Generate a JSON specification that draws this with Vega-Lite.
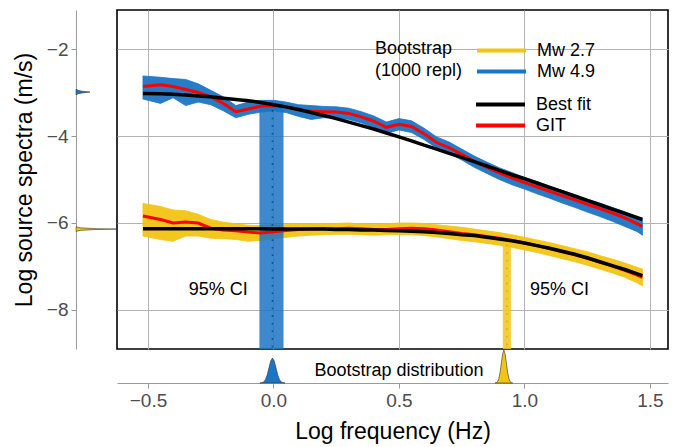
{
  "$schema": "https://vega.github.io/schema/vega-lite/v6.json",
  "width": 551,
  "height": 339,
  "autosize": {"type": "none"},
  "padding": {"left": 117, "top": 10, "right": 5, "bottom": 98},
  "config": {
    "font": "Liberation Sans",
    "view": {"stroke": "#000000", "strokeWidth": 1.6},
    "legend": {"padding": 0}
  },
  "datasets": {
    "spec": [
      {"f": -0.52, "event": "Mw 4.9", "hi": -2.62, "lo": -3.15, "git": -2.86, "fit": -3.02},
      {"f": -0.45, "event": "Mw 4.9", "hi": -2.65, "lo": -3.25, "git": -2.82, "fit": -3.03},
      {"f": -0.4, "event": "Mw 4.9", "hi": -2.68, "lo": -3.12, "git": -2.86, "fit": -3.04},
      {"f": -0.35, "event": "Mw 4.9", "hi": -2.7, "lo": -3.3, "git": -2.93, "fit": -3.06},
      {"f": -0.3, "event": "Mw 4.9", "hi": -2.8, "lo": -3.22, "git": -3.0, "fit": -3.08},
      {"f": -0.25, "event": "Mw 4.9", "hi": -2.95, "lo": -3.28, "git": -3.1, "fit": -3.1},
      {"f": -0.2, "event": "Mw 4.9", "hi": -3.1, "lo": -3.42, "git": -3.25, "fit": -3.13},
      {"f": -0.15, "event": "Mw 4.9", "hi": -3.3, "lo": -3.58, "git": -3.44, "fit": -3.16},
      {"f": -0.1, "event": "Mw 4.9", "hi": -3.22, "lo": -3.5, "git": -3.38, "fit": -3.19},
      {"f": -0.05, "event": "Mw 4.9", "hi": -3.18, "lo": -3.45, "git": -3.31, "fit": -3.23},
      {"f": 0.0, "event": "Mw 4.9", "hi": -3.18, "lo": -3.42, "git": -3.3, "fit": -3.28},
      {"f": 0.05, "event": "Mw 4.9", "hi": -3.22, "lo": -3.46, "git": -3.33, "fit": -3.33},
      {"f": 0.1, "event": "Mw 4.9", "hi": -3.28, "lo": -3.55, "git": -3.4, "fit": -3.39},
      {"f": 0.15, "event": "Mw 4.9", "hi": -3.3, "lo": -3.62, "git": -3.43, "fit": -3.46},
      {"f": 0.2, "event": "Mw 4.9", "hi": -3.32, "lo": -3.58, "git": -3.44, "fit": -3.53},
      {"f": 0.25, "event": "Mw 4.9", "hi": -3.33, "lo": -3.58, "git": -3.45, "fit": -3.6},
      {"f": 0.3, "event": "Mw 4.9", "hi": -3.36, "lo": -3.62, "git": -3.48, "fit": -3.68},
      {"f": 0.35, "event": "Mw 4.9", "hi": -3.44, "lo": -3.7, "git": -3.56, "fit": -3.76},
      {"f": 0.4, "event": "Mw 4.9", "hi": -3.54, "lo": -3.8, "git": -3.66, "fit": -3.84},
      {"f": 0.45, "event": "Mw 4.9", "hi": -3.68, "lo": -3.94, "git": -3.8, "fit": -3.93},
      {"f": 0.5, "event": "Mw 4.9", "hi": -3.6, "lo": -3.86, "git": -3.73, "fit": -4.02},
      {"f": 0.55, "event": "Mw 4.9", "hi": -3.65, "lo": -3.92, "git": -3.78, "fit": -4.11},
      {"f": 0.6, "event": "Mw 4.9", "hi": -3.82, "lo": -4.08, "git": -3.95, "fit": -4.21},
      {"f": 0.65, "event": "Mw 4.9", "hi": -4.02, "lo": -4.28, "git": -4.15, "fit": -4.3},
      {"f": 0.7, "event": "Mw 4.9", "hi": -4.14, "lo": -4.4, "git": -4.27, "fit": -4.4},
      {"f": 0.75, "event": "Mw 4.9", "hi": -4.3, "lo": -4.55, "git": -4.42, "fit": -4.49},
      {"f": 0.8, "event": "Mw 4.9", "hi": -4.46, "lo": -4.72, "git": -4.58, "fit": -4.59},
      {"f": 0.85, "event": "Mw 4.9", "hi": -4.6, "lo": -4.86, "git": -4.72, "fit": -4.69},
      {"f": 0.9, "event": "Mw 4.9", "hi": -4.73, "lo": -5.0, "git": -4.85, "fit": -4.79},
      {"f": 0.95, "event": "Mw 4.9", "hi": -4.84, "lo": -5.12, "git": -4.96, "fit": -4.89},
      {"f": 1.0, "event": "Mw 4.9", "hi": -4.95, "lo": -5.22, "git": -5.07, "fit": -4.98},
      {"f": 1.05, "event": "Mw 4.9", "hi": -5.05, "lo": -5.33, "git": -5.17, "fit": -5.08},
      {"f": 1.1, "event": "Mw 4.9", "hi": -5.15, "lo": -5.43, "git": -5.27, "fit": -5.18},
      {"f": 1.15, "event": "Mw 4.9", "hi": -5.25, "lo": -5.54, "git": -5.37, "fit": -5.28},
      {"f": 1.2, "event": "Mw 4.9", "hi": -5.35, "lo": -5.64, "git": -5.47, "fit": -5.38},
      {"f": 1.25, "event": "Mw 4.9", "hi": -5.45, "lo": -5.75, "git": -5.57, "fit": -5.48},
      {"f": 1.3, "event": "Mw 4.9", "hi": -5.54, "lo": -5.85, "git": -5.67, "fit": -5.58},
      {"f": 1.35, "event": "Mw 4.9", "hi": -5.64, "lo": -5.96, "git": -5.77, "fit": -5.68},
      {"f": 1.4, "event": "Mw 4.9", "hi": -5.74, "lo": -6.08, "git": -5.88, "fit": -5.78},
      {"f": 1.45, "event": "Mw 4.9", "hi": -5.86, "lo": -6.2, "git": -6.02, "fit": -5.88},
      {"f": 1.47, "event": "Mw 4.9", "hi": -5.92, "lo": -6.28, "git": -6.08, "fit": -5.92},
      {"f": -0.52, "event": "Mw 2.7", "hi": -5.55, "lo": -6.3, "git": -5.84, "fit": -6.13},
      {"f": -0.45, "event": "Mw 2.7", "hi": -5.62, "lo": -6.38, "git": -5.92, "fit": -6.13},
      {"f": -0.4, "event": "Mw 2.7", "hi": -5.7, "lo": -6.42, "git": -6.0, "fit": -6.13},
      {"f": -0.35, "event": "Mw 2.7", "hi": -5.72, "lo": -6.3, "git": -5.98, "fit": -6.13},
      {"f": -0.3, "event": "Mw 2.7", "hi": -5.8, "lo": -6.3, "git": -6.0, "fit": -6.13},
      {"f": -0.25, "event": "Mw 2.7", "hi": -5.92, "lo": -6.35, "git": -6.12, "fit": -6.13},
      {"f": -0.2, "event": "Mw 2.7", "hi": -5.98, "lo": -6.36, "git": -6.16, "fit": -6.13},
      {"f": -0.15, "event": "Mw 2.7", "hi": -6.02, "lo": -6.38, "git": -6.18, "fit": -6.13},
      {"f": -0.1, "event": "Mw 2.7", "hi": -6.05, "lo": -6.42, "git": -6.21, "fit": -6.13},
      {"f": -0.05, "event": "Mw 2.7", "hi": -6.06, "lo": -6.4, "git": -6.23, "fit": -6.13},
      {"f": 0.0, "event": "Mw 2.7", "hi": -6.04, "lo": -6.36, "git": -6.2, "fit": -6.14},
      {"f": 0.05, "event": "Mw 2.7", "hi": -6.03, "lo": -6.33, "git": -6.17, "fit": -6.14},
      {"f": 0.1, "event": "Mw 2.7", "hi": -6.02, "lo": -6.3, "git": -6.15, "fit": -6.14},
      {"f": 0.15, "event": "Mw 2.7", "hi": -6.02, "lo": -6.28, "git": -6.14, "fit": -6.14},
      {"f": 0.2, "event": "Mw 2.7", "hi": -6.01, "lo": -6.27, "git": -6.13, "fit": -6.14},
      {"f": 0.25, "event": "Mw 2.7", "hi": -6.01, "lo": -6.26, "git": -6.13, "fit": -6.15},
      {"f": 0.3, "event": "Mw 2.7", "hi": -6.0, "lo": -6.26, "git": -6.12, "fit": -6.15},
      {"f": 0.35, "event": "Mw 2.7", "hi": -6.02, "lo": -6.27, "git": -6.13, "fit": -6.16},
      {"f": 0.4, "event": "Mw 2.7", "hi": -6.03, "lo": -6.28, "git": -6.15, "fit": -6.16},
      {"f": 0.45, "event": "Mw 2.7", "hi": -6.02, "lo": -6.27, "git": -6.15, "fit": -6.17},
      {"f": 0.5, "event": "Mw 2.7", "hi": -6.0, "lo": -6.27, "git": -6.13, "fit": -6.18},
      {"f": 0.55, "event": "Mw 2.7", "hi": -6.0, "lo": -6.27, "git": -6.12, "fit": -6.19},
      {"f": 0.6, "event": "Mw 2.7", "hi": -6.01, "lo": -6.29, "git": -6.13, "fit": -6.2},
      {"f": 0.65, "event": "Mw 2.7", "hi": -6.04, "lo": -6.32, "git": -6.16, "fit": -6.22},
      {"f": 0.7, "event": "Mw 2.7", "hi": -6.07, "lo": -6.36, "git": -6.2, "fit": -6.24},
      {"f": 0.75, "event": "Mw 2.7", "hi": -6.1, "lo": -6.4, "git": -6.24, "fit": -6.27},
      {"f": 0.8, "event": "Mw 2.7", "hi": -6.14, "lo": -6.43, "git": -6.27, "fit": -6.29},
      {"f": 0.85, "event": "Mw 2.7", "hi": -6.18, "lo": -6.47, "git": -6.31, "fit": -6.33},
      {"f": 0.9, "event": "Mw 2.7", "hi": -6.22, "lo": -6.51, "git": -6.35, "fit": -6.37},
      {"f": 0.95, "event": "Mw 2.7", "hi": -6.27, "lo": -6.56, "git": -6.4, "fit": -6.41},
      {"f": 1.0, "event": "Mw 2.7", "hi": -6.33, "lo": -6.62, "git": -6.46, "fit": -6.46},
      {"f": 1.05, "event": "Mw 2.7", "hi": -6.39, "lo": -6.68, "git": -6.52, "fit": -6.52},
      {"f": 1.1, "event": "Mw 2.7", "hi": -6.45, "lo": -6.75, "git": -6.59, "fit": -6.58},
      {"f": 1.15, "event": "Mw 2.7", "hi": -6.52, "lo": -6.82, "git": -6.66, "fit": -6.65},
      {"f": 1.2, "event": "Mw 2.7", "hi": -6.59, "lo": -6.89, "git": -6.73, "fit": -6.72},
      {"f": 1.25, "event": "Mw 2.7", "hi": -6.66, "lo": -6.97, "git": -6.81, "fit": -6.8},
      {"f": 1.3, "event": "Mw 2.7", "hi": -6.75, "lo": -7.06, "git": -6.9, "fit": -6.89},
      {"f": 1.35, "event": "Mw 2.7", "hi": -6.83, "lo": -7.15, "git": -6.99, "fit": -6.98},
      {"f": 1.4, "event": "Mw 2.7", "hi": -6.92, "lo": -7.25, "git": -7.09, "fit": -7.07},
      {"f": 1.45, "event": "Mw 2.7", "hi": -7.02, "lo": -7.38, "git": -7.2, "fit": -7.17},
      {"f": 1.47, "event": "Mw 2.7", "hi": -7.06, "lo": -7.45, "git": -7.25, "fit": -7.21}
    ],
    "ci": [
      {"event": "Mw 4.9", "x1": -0.056, "x2": 0.04, "xc": -0.004, "ytop": -3.23, "ybot": -8.897},
      {"event": "Mw 2.7", "x1": 0.914, "x2": 0.946, "xc": 0.93, "ytop": -6.5, "ybot": -8.897}
    ],
    "ann": [
      {"f": -0.22, "y": -7.54, "label": "95% CI"},
      {"f": 1.14, "y": -7.54, "label": "95% CI"}
    ],
    "dx": [
      {"event": "Mw 4.9", "f": -0.054, "d": 0},
      {"event": "Mw 4.9", "f": -0.046, "d": 0.3},
      {"event": "Mw 4.9", "f": -0.039, "d": 1.1},
      {"event": "Mw 4.9", "f": -0.032, "d": 3.4},
      {"event": "Mw 4.9", "f": -0.025, "d": 8.1},
      {"event": "Mw 4.9", "f": -0.018, "d": 15.2},
      {"event": "Mw 4.9", "f": -0.011, "d": 22.1},
      {"event": "Mw 4.9", "f": -0.004, "d": 25},
      {"event": "Mw 4.9", "f": 0.003, "d": 22.1},
      {"event": "Mw 4.9", "f": 0.01, "d": 15.2},
      {"event": "Mw 4.9", "f": 0.017, "d": 8.1},
      {"event": "Mw 4.9", "f": 0.024, "d": 3.4},
      {"event": "Mw 4.9", "f": 0.031, "d": 1.1},
      {"event": "Mw 4.9", "f": 0.038, "d": 0.3},
      {"event": "Mw 4.9", "f": 0.046, "d": 0},
      {"event": "Mw 2.7", "f": 0.883, "d": 0},
      {"event": "Mw 2.7", "f": 0.888, "d": 0.37},
      {"event": "Mw 2.7", "f": 0.893, "d": 1.45},
      {"event": "Mw 2.7", "f": 0.898, "d": 4.5},
      {"event": "Mw 2.7", "f": 0.903, "d": 10.7},
      {"event": "Mw 2.7", "f": 0.908, "d": 20},
      {"event": "Mw 2.7", "f": 0.913, "d": 29.1},
      {"event": "Mw 2.7", "f": 0.918, "d": 33},
      {"event": "Mw 2.7", "f": 0.923, "d": 29.1},
      {"event": "Mw 2.7", "f": 0.928, "d": 20},
      {"event": "Mw 2.7", "f": 0.933, "d": 10.7},
      {"event": "Mw 2.7", "f": 0.938, "d": 4.5},
      {"event": "Mw 2.7", "f": 0.943, "d": 1.45},
      {"event": "Mw 2.7", "f": 0.948, "d": 0.37},
      {"event": "Mw 2.7", "f": 0.953, "d": 0}
    ],
    "dy": [
      {"event": "Mw 4.9", "y": -2.925, "d": 0},
      {"event": "Mw 4.9", "y": -2.95, "d": 2},
      {"event": "Mw 4.9", "y": -2.97, "d": 6},
      {"event": "Mw 4.9", "y": -2.99, "d": 14},
      {"event": "Mw 4.9", "y": -3.01, "d": 6},
      {"event": "Mw 4.9", "y": -3.03, "d": 2},
      {"event": "Mw 4.9", "y": -3.055, "d": 0},
      {"event": "Mw 2.7", "y": -6.085, "d": 0},
      {"event": "Mw 2.7", "y": -6.11, "d": 4},
      {"event": "Mw 2.7", "y": -6.13, "d": 20},
      {"event": "Mw 2.7", "y": -6.14, "d": 40},
      {"event": "Mw 2.7", "y": -6.15, "d": 20},
      {"event": "Mw 2.7", "y": -6.17, "d": 4},
      {"event": "Mw 2.7", "y": -6.195, "d": 0}
    ],
    "lbl": [
      {"f": 0.5, "d": 12, "label": "Bootstrap distribution"}
    ]
  },
  "resolve": {
    "scale": {"x": "independent", "y": "independent"},
    "axis": {"x": "independent", "y": "independent"}
  },
  "layer": [
    {
      "layer": [
        {
          "data": {"name": "spec"},
          "mark": {"type": "area", "strokeWidth": 0.8, "fillOpacity": 0.95},
          "encoding": {
            "x": {"field": "f", "type": "quantitative", "scale": {"domain": [-0.6235, 1.572], "nice": false, "zero": false},
              "axis": {"grid": true, "gridColor": "#b3b3b3", "gridWidth": 1, "labels": false, "ticks": false, "domain": false, "title": null, "values": [-0.5, 0, 0.5, 1, 1.5]}},
            "y": {"field": "lo", "type": "quantitative", "scale": {"domain": [-8.897, -1.103], "nice": false, "zero": false},
              "axis": {"grid": true, "gridColor": "#b3b3b3", "gridWidth": 1, "labels": false, "ticks": false, "domain": false, "title": null, "values": [-8, -6, -4, -2]}},
            "y2": {"field": "hi"},
            "fill": {"field": "event", "type": "nominal", "scale": {"range": ["#F2C414", "#1C74C4"]}, "legend": null},
            "stroke": {"field": "event", "type": "nominal", "scale": {"domain": ["Mw 2.7", "Mw 4.9"], "range": ["#F2C414", "#1C74C4"]},
              "legend": {"orient": "none", "legendX": 258, "legendY": 30, "title": ["Bootstrap", "(1000 repl)"], "titleOrient": "left", "titleAnchor": "start", "titleAlign": "left", "titleBaseline": "top", "titleFontSize": 18, "titleFontWeight": "normal", "titleColor": "#000", "titleLineHeight": 22, "titlePadding": 12, "labelFontSize": 18, "labelColor": "#000", "labelOffset": 9, "symbolType": "stroke", "symbolSize": 2401, "symbolStrokeWidth": 4, "clipHeight": 21, "rowPadding": 0, "symbolOpacity": 1}}
          }
        },
        {
          "data": {"name": "ci"},
          "mark": {"type": "rect", "opacity": 0.85},
          "encoding": {
            "x": {"field": "x1", "type": "quantitative", "scale": {"domain": [-0.6235, 1.572], "nice": false, "zero": false}},
            "x2": {"field": "x2"},
            "y": {"field": "ytop", "type": "quantitative", "scale": {"domain": [-8.897, -1.103], "nice": false, "zero": false}},
            "y2": {"field": "ybot"},
            "fill": {"field": "event", "type": "nominal", "legend": null}
          }
        },
        {
          "data": {"name": "ci"},
          "transform": [{"filter": "datum.event == 'Mw 4.9'"}],
          "mark": {"type": "rule", "strokeWidth": 1.6, "strokeDash": [1.6, 6], "color": "#0D4E8C"},
          "encoding": {
            "x": {"field": "xc", "type": "quantitative", "scale": {"domain": [-0.6235, 1.572], "nice": false, "zero": false}},
            "y": {"field": "ytop", "type": "quantitative", "scale": {"domain": [-8.897, -1.103], "nice": false, "zero": false}},
            "y2": {"field": "ybot"}
          }
        },
        {
          "data": {"name": "ci"},
          "transform": [{"filter": "datum.event == 'Mw 2.7'"}],
          "mark": {"type": "rule", "strokeWidth": 1.6, "strokeDash": [1.6, 6], "color": "#E0AE00"},
          "encoding": {
            "x": {"field": "xc", "type": "quantitative", "scale": {"domain": [-0.6235, 1.572], "nice": false, "zero": false}},
            "y": {"field": "ytop", "type": "quantitative", "scale": {"domain": [-8.897, -1.103], "nice": false, "zero": false}},
            "y2": {"field": "ybot"}
          }
        },
        {
          "data": {"name": "spec"},
          "mark": {"type": "line", "strokeWidth": 3},
          "encoding": {
            "x": {"field": "f", "type": "quantitative", "scale": {"domain": [-0.6235, 1.572], "nice": false, "zero": false}},
            "y": {"field": "git", "type": "quantitative", "scale": {"domain": [-8.897, -1.103], "nice": false, "zero": false}},
            "detail": {"field": "event"},
            "color": {"datum": "GIT", "type": "nominal", "scale": {"domain": ["Best fit", "GIT"], "range": ["#000000", "#FF0000"]},
              "legend": {"orient": "none", "legendX": 357, "legendY": 84, "title": null, "labelFontSize": 18, "labelColor": "#000", "labelOffset": 9, "symbolType": "stroke", "symbolSize": 2401, "symbolStrokeWidth": 4, "clipHeight": 21, "rowPadding": 0}}
          }
        },
        {
          "data": {"name": "spec"},
          "mark": {"type": "line", "strokeWidth": 3.5},
          "encoding": {
            "x": {"field": "f", "type": "quantitative", "scale": {"domain": [-0.6235, 1.572], "nice": false, "zero": false}},
            "y": {"field": "fit", "type": "quantitative", "scale": {"domain": [-8.897, -1.103], "nice": false, "zero": false}},
            "detail": {"field": "event"},
            "color": {"datum": "Best fit", "type": "nominal"}
          }
        },
        {
          "data": {"name": "ann"},
          "mark": {"type": "text", "fontSize": 18, "color": "#000"},
          "encoding": {
            "x": {"field": "f", "type": "quantitative", "scale": {"domain": [-0.6235, 1.572], "nice": false, "zero": false}},
            "y": {"field": "y", "type": "quantitative", "scale": {"domain": [-8.897, -1.103], "nice": false, "zero": false}},
            "text": {"field": "label"}
          }
        }
      ]
    },
    {
      "layer": [
        {
          "data": {"name": "dx"},
          "mark": {"type": "area", "stroke": "#333333", "strokeWidth": 0.6},
          "encoding": {
            "x": {"field": "f", "type": "quantitative", "scale": {"domain": [-0.6235, 1.572], "nice": false, "zero": false},
              "axis": {"orient": "bottom", "offset": 34, "values": [-0.5, 0, 0.5, 1, 1.5], "format": ".1f", "grid": false, "tickSize": 5, "tickColor": "#999999", "domainColor": "#999999", "labelFontSize": 19, "labelColor": "#4d4d4d", "labelPadding": 3, "title": "Log frequency (Hz)", "titleFontSize": 23, "titleFontWeight": "normal", "titleColor": "#000", "titlePadding": 10}},
            "y": {"field": "d", "type": "quantitative", "stack": null, "scale": {"domain": [0, 34], "range": [373, 339], "nice": false}, "axis": null},
            "detail": {"field": "event"},
            "fill": {"field": "event", "type": "nominal", "legend": null}
          }
        },
        {
          "data": {"name": "lbl"},
          "mark": {"type": "text", "fontSize": 18, "color": "#000"},
          "encoding": {
            "x": {"field": "f", "type": "quantitative", "scale": {"domain": [-0.6235, 1.572], "nice": false, "zero": false}},
            "y": {"field": "d", "type": "quantitative", "scale": {"domain": [0, 34], "range": [373, 339], "nice": false}},
            "text": {"field": "label"}
          }
        }
      ]
    },
    {
      "data": {"name": "dy"},
      "mark": {"type": "area", "orient": "horizontal", "stroke": "#333333", "strokeWidth": 0.6},
      "encoding": {
        "y": {"field": "y", "type": "quantitative", "scale": {"domain": [-8.897, -1.103], "nice": false, "zero": false},
          "axis": {"orient": "left", "offset": 41, "values": [-8, -6, -4, -2], "format": "d", "grid": false, "tickSize": 5, "tickColor": "#999999", "domainColor": "#999999", "labelFontSize": 19, "labelColor": "#4d4d4d", "labelPadding": 3, "title": "Log source spectra (m/s)", "titleFontSize": 23, "titleFontWeight": "normal", "titleColor": "#000", "titlePadding": 10}},
        "x": {"field": "d", "type": "quantitative", "stack": null, "scale": {"domain": [0, 41], "range": [-41, 0], "nice": false}, "axis": null},
        "detail": {"field": "event"},
        "fill": {"field": "event", "type": "nominal", "legend": null}
      }
    }
  ]
}
